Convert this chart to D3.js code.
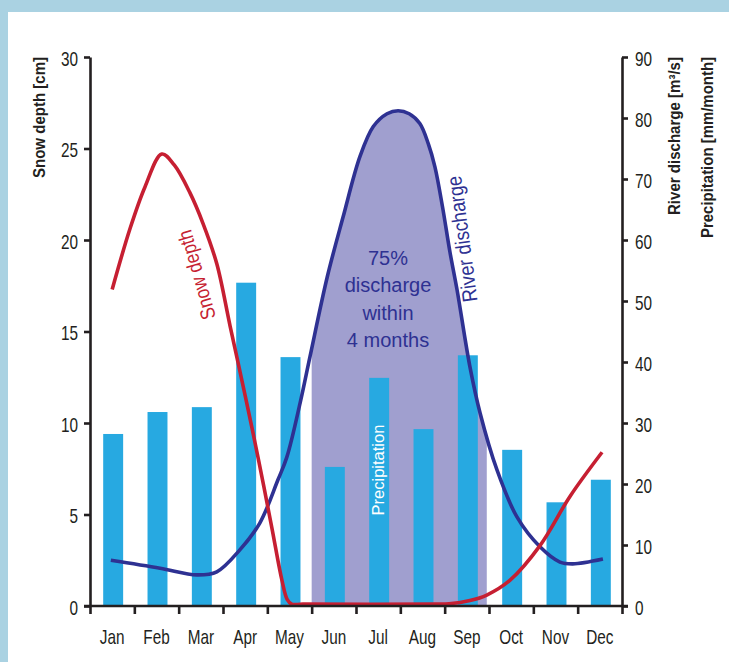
<!DOCTYPE html>
<html><head><meta charset="utf-8">
<script src="https://cdn.jsdelivr.net/npm/d3@7"></script>
<style>
html,body{margin:0;padding:0;background:#fff;}
svg{display:block;}
</style></head><body>
<svg id="chart" width="729" height="662"></svg>
<script>
// ---- data ----
const months = ["Jan","Feb","Mar","Apr","May","Jun","Jul","Aug","Sep","Oct","Nov","Dec"];
const precipitation = [28.2, 31.8, 32.6, 53.0, 40.8, 22.8, 37.4, 29.0, 41.1, 25.6, 17.0, 20.7];
// snow depth curve: position in months (0 = mid-Jan) and depth in cm
const snowPos   = [0, 0.4, 0.74, 1.12, 1.4, 1.75, 2.05, 2.36, 2.66, 3.0, 3.3, 3.6, 3.83, 3.95, 4.05, 4.3, 7.3, 7.6, 8.07, 8.45, 8.97, 9.65, 10.33, 11.05];
const snowDepth = [17.3, 20.6, 22.9, 24.7, 24.1, 22.6, 20.9, 18.7, 15.3, 11.5, 8.0, 4.3, 1.4, 0.35, 0.1, 0.1, 0.1, 0.12, 0.3, 0.6, 1.4, 3.3, 6.0, 8.4];
// river discharge curve: position in months and discharge in m3/s
const dischargePos = [-0.03, 1.08, 1.91, 2.36, 2.88, 3.33, 3.74, 3.94, 4.24, 4.46, 4.85, 5.21, 5.59, 5.89, 6.2, 6.45, 6.7, 6.94, 7.13, 7.28, 7.45, 7.62, 7.78, 8.07, 8.30, 8.68, 9.13, 9.65, 10.10, 10.39, 11.07];
const discharge    = [7.5, 6.2, 5.1, 5.6, 9.2, 13.6, 20.7, 24.4, 33.3, 40.8, 53.9, 63.8, 73.7, 78.6, 80.7, 81.2, 80.7, 79.1, 75.8, 72.0, 65.5, 58.0, 51.8, 39.2, 31.6, 22.3, 14.6, 9.7, 7.2, 6.9, 7.7];
const shadeRange = [4.5, 8.45];
const snowTicks = [0, 5, 10, 15, 20, 25, 30];
const rightTicks = [0, 10, 20, 30, 40, 50, 60, 70, 80, 90];
const centerText = ["75%", "discharge", "within", "4 months"];

// ---- setup ----
const W = 729, H = 662;
const SANS = "'Liberation Sans',Arial,sans-serif";
const AX = "#231f20";
const SQ = 0.73; // horizontal squeeze for condensed tick labels
const svg = d3.select("#chart");

svg.append("rect").attr("width", W).attr("height", H).attr("fill", "#aad2e2");
svg.append("rect").attr("x", 8).attr("y", 12).attr("width", W - 8).attr("height", H - 12).attr("fill", "#fff");

const xPos = d3.scaleLinear().domain([-0.5, 11.5]).range([90, 622]);
const xBand = d3.scaleBand().domain(months).range([90, 622]).paddingInner(0.55).paddingOuter(0.275);
const yL = d3.scaleLinear().domain([0, 30]).range([606, 57]);
const yR = d3.scaleLinear().domain([0, 90]).range([606, 57]);

// shaded area under discharge (Jun-Sep)
svg.append("clipPath").attr("id", "shadeClip").append("rect")
  .attr("x", xPos(shadeRange[0])).attr("y", 0)
  .attr("width", xPos(shadeRange[1]) - xPos(shadeRange[0])).attr("height", yR(0));
const dPts = dischargePos.map((p, i) => [p, discharge[i]]);
const sPts = snowPos.map((p, i) => [p, snowDepth[i]]);
const curve = d3.curveCatmullRom.alpha(0.5);
svg.append("path").datum(dPts)
  .attr("clip-path", "url(#shadeClip)")
  .attr("fill", "#a09fcf")
  .attr("d", d3.area().curve(curve).x(d => xPos(d[0])).y0(yR(0)).y1(d => yR(d[1])));

// bars
svg.append("g").selectAll("rect").data(months).join("rect")
  .attr("x", d => xBand(d) + 1).attr("width", xBand.bandwidth())
  .attr("y", (d, i) => yR(precipitation[i]))
  .attr("height", (d, i) => yR(0) - yR(precipitation[i]))
  .attr("fill", "#27a9e1");

// annotations
svg.append("text").text("Precipitation")
  .attr("transform", `translate(384,470) rotate(-90)`)
  .attr("text-anchor", "middle")
  .attr("font-family", SANS).attr("font-size", 16.5).attr("fill", "#fff");

svg.append("g").selectAll("text").data(centerText).join("text")
  .text(d => d)
  .attr("x", 388).attr("y", (d, i) => 265 + i * 27.3)
  .attr("text-anchor", "middle")
  .attr("font-family", SANS).attr("font-size", 20).attr("fill", "#2e3192");

svg.append("text").text("River discharge")
  .attr("transform", `translate(462,239) rotate(-97.5)`)
  .attr("text-anchor", "middle").attr("dy", "0.35em")
  .attr("textLength", 127).attr("lengthAdjust", "spacingAndGlyphs")
  .attr("font-family", SANS).attr("font-size", 21).attr("fill", "#2e3192");

svg.append("text").text("Snow depth")
  .attr("transform", `translate(196.5,275) rotate(-106)`)
  .attr("text-anchor", "middle").attr("dy", "0.35em")
  .attr("textLength", 92).attr("lengthAdjust", "spacingAndGlyphs")
  .attr("font-family", SANS).attr("font-size", 20.5).attr("fill", "#c61f32");

// lines
svg.append("path").datum(dPts)
  .attr("fill", "none").attr("stroke", "#2e3192").attr("stroke-width", 3.6)
  .attr("d", d3.line().curve(curve).x(d => xPos(d[0])).y(d => yR(d[1])));
svg.append("path").datum(sPts)
  .attr("fill", "none").attr("stroke", "#c61f32").attr("stroke-width", 3.6)
  .attr("d", d3.line().curve(curve).x(d => xPos(d[0])).y(d => yL(Math.max(0.1, d[1]))));

// axes
function styleAxis(g) {
  g.selectAll(".domain").attr("stroke", AX).attr("stroke-width", 2.6);
  g.selectAll(".tick line").attr("stroke", AX).attr("stroke-width", 2.6);
  g.selectAll("text").attr("font-family", SANS).attr("font-size", 21).attr("fill", AX);
}
function squeeze(g) {
  g.selectAll(".tick text").each(function () {
    const t = d3.select(this);
    const x = +t.attr("x") || 0, y = +t.attr("y") || 0;
    t.attr("x", 0).attr("y", 0).attr("transform", `translate(${x},${y}) scale(${SQ},1)`);
  });
}
const gL = svg.append("g").attr("transform", "translate(90,0)")
  .call(d3.axisLeft(yL).tickValues(snowTicks).tickSize(6).tickSizeOuter(0).tickPadding(6))
  .call(styleAxis);
gL.selectAll("text").attr("dy", "0.4em");
squeeze(gL);
const gR = svg.append("g").attr("transform", "translate(622,0)")
  .call(d3.axisRight(yR).tickValues(rightTicks).tickSize(6).tickSizeOuter(0).tickPadding(7))
  .call(styleAxis);
gR.selectAll("text").attr("dy", "0.4em");
squeeze(gR);
const gB = svg.append("g").attr("transform", "translate(0,606)")
  .call(d3.axisBottom(xPos).tickValues(d3.range(-0.5, 12, 1)).tickSize(8).tickSizeOuter(0).tickFormat(""))
  .call(styleAxis);
gB.select(".domain").attr("d", `M${xPos(-0.5) - 6},0H${xPos(11.5) + 6}`);
const gM = svg.append("g").attr("transform", "translate(0,606)")
  .call(d3.axisBottom(xBand).tickSize(0).tickPadding(38))
  .call(styleAxis);
gM.select(".domain").remove();
gM.selectAll("text").attr("dy", "0");
squeeze(gM);

// axis titles
const titles = [
  {t: "Snow depth [cm]", x: 45, len: 121},
  {t: "River discharge [m³/s]", x: 680, len: 158},
  {t: "Precipitation [mm/month]", x: 713, len: 181}
];
svg.append("g").selectAll("text").data(titles).join("text")
  .text(d => d.t)
  .attr("transform", d => `translate(${d.x},57) rotate(-90)`)
  .attr("text-anchor", "end")
  .attr("textLength", d => d.len).attr("lengthAdjust", "spacingAndGlyphs")
  .attr("font-family", SANS).attr("font-weight", "bold").attr("font-size", 16.5).attr("fill", AX);
</script>
</body></html>
